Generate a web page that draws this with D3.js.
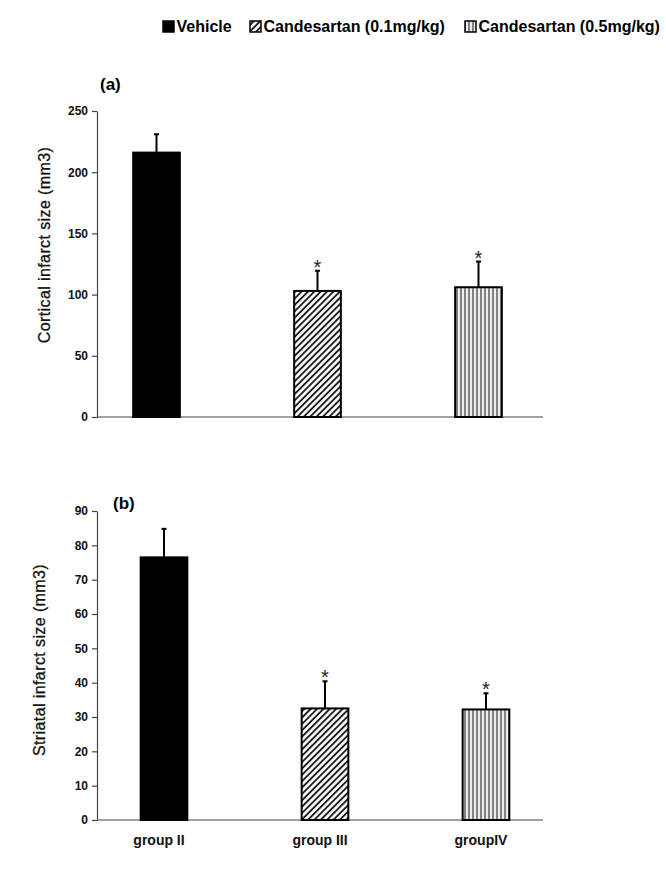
<!DOCTYPE html>
<html><head><meta charset="utf-8">
<script src="https://cdn.jsdelivr.net/npm/d3@7/dist/d3.min.js"></script>
<style>body{margin:0;background:#fff}svg{display:block}</style>
</head><body>
<svg id="c" width="666" height="872"></svg>
<script>
const groups = ["group II", "group III", "groupIV"];
const series = ["Vehicle", "Candesartan (0.1mg/kg)", "Candesartan (0.5mg/kg)"];
const corticalMean = [216, 103, 106];
const corticalErr = [15, 16.5, 21];
const striatalMean = [76.5, 32.5, 32.2];
const striatalErr = [8.3, 7.9, 4.7];
const significant = [false, true, true];
const corticalTicks = [0, 50, 100, 150, 200, 250];
const striatalTicks = [0, 10, 20, 30, 40, 50, 60, 70, 80, 90];

const svg = d3.select("#c");
const font = "'Liberation Sans', Arial, sans-serif";
const defs = svg.append("defs");

const pDiag = defs.append("pattern").attr("id", "diag").attr("patternUnits", "userSpaceOnUse")
  .attr("width", 4.5).attr("height", 4.5).attr("patternTransform", "rotate(45)");
pDiag.append("rect").attr("width", 4.5).attr("height", 4.5).attr("fill", "#fff");
pDiag.append("line").attr("x1", 1).attr("x2", 1).attr("y1", 0).attr("y2", 4.5)
  .attr("stroke", "#111").attr("stroke-width", 1.8);

const pVert = defs.append("pattern").attr("id", "vert").attr("patternUnits", "userSpaceOnUse")
  .attr("width", 4).attr("height", 4);
pVert.append("rect").attr("width", 4).attr("height", 4).attr("fill", "#eee");
pVert.append("line").attr("x1", 1).attr("x2", 1).attr("y1", 0).attr("y2", 4)
  .attr("stroke", "#555").attr("stroke-width", 1.4);

const fills = ["#000", "url(#diag)", "url(#vert)"];

// Legend
const legendX = [163, 250, 465];
const leg = svg.append("g");
series.forEach((s, i) => {
  leg.append("rect").attr("x", legendX[i]).attr("y", 21).attr("width", 11).attr("height", 11)
    .attr("fill", fills[i]).attr("stroke", "#000").attr("stroke-width", 1.5);
  leg.append("text").attr("x", legendX[i] + 13.5).attr("y", 32).text(s)
    .attr("font-family", font).attr("font-weight", "bold").attr("font-size", 16).attr("fill", "#000");
});

function panel(opts) {
  const g = svg.append("g");
  const y = d3.scaleLinear().domain(opts.domain).range([opts.y0, opts.y1]);
  const x = d3.scaleBand().domain(groups).range(opts.xRange).paddingInner(0.71).paddingOuter(0.355);
  const axisX = 97;

  // y axis
  const ax = g.append("g").attr("transform", `translate(${axisX},0)`)
    .call(d3.axisLeft(y).tickValues(opts.ticks).tickSize(5).tickPadding(4).tickSizeOuter(0));
  ax.select(".domain").attr("stroke", "#444").attr("stroke-width", 1.2);
  ax.selectAll(".tick line").attr("stroke", "#444").attr("stroke-width", 1.2);
  ax.selectAll("text").attr("font-family", font).attr("font-weight", "bold")
    .attr("font-size", 12).attr("fill", "#111");

  // x axis line
  g.append("line").attr("x1", axisX).attr("x2", 543).attr("y1", y(0)).attr("y2", y(0))
    .attr("stroke", "#444").attr("stroke-width", 1.2);

  // error bars
  groups.forEach((c, i) => {
    const cx = x(c) + x.bandwidth() / 2;
    const top = y(opts.mean[i] + opts.err[i]);
    g.append("line").attr("x1", cx).attr("x2", cx).attr("y1", y(opts.mean[i])).attr("y2", top)
      .attr("stroke", "#000").attr("stroke-width", 2);
    g.append("line").attr("x1", cx - 2.5).attr("x2", cx + 2.5).attr("y1", top).attr("y2", top)
      .attr("stroke", "#000").attr("stroke-width", 2);
    if (significant[i]) {
      g.append("text").attr("x", cx).attr("y", top + 3).attr("text-anchor", "middle")
        .attr("font-family", font).attr("font-size", 20).attr("fill", "#222").text("*");
    }
  });

  // bars
  g.selectAll("rect.bar").data(groups).join("rect").attr("class", "bar")
    .attr("x", d => x(d)).attr("width", x.bandwidth())
    .attr("y", (d, i) => y(opts.mean[i])).attr("height", (d, i) => y(0) - y(opts.mean[i]))
    .attr("fill", (d, i) => fills[i]).attr("stroke", "#000").attr("stroke-width", 2);

  // y title
  g.append("text").attr("transform", `translate(${opts.titleX},${opts.titleY}) rotate(-90)`)
    .attr("text-anchor", "middle").attr("font-family", font).attr("font-size", 16)
    .attr("letter-spacing", 0.4).attr("stroke", "#111").attr("stroke-width", 0.3)
    .attr("fill", "#111").text(opts.title);

  // panel label
  g.append("text").attr("x", opts.labelX).attr("y", opts.labelY).text(opts.label)
    .attr("font-family", font).attr("font-weight", "bold").attr("font-size", 17).attr("fill", "#000");

  if (opts.showGroups) {
    groups.forEach((c) => {
      g.append("text").attr("x", x(c) + x.bandwidth() / 2 - 5).attr("y", 845)
        .attr("text-anchor", "middle").attr("font-family", font).attr("font-weight", "bold")
        .attr("font-size", 14).attr("fill", "#111").text(c);
    });
  }
}

panel({domain: [0, 250], y0: 417, y1: 111, ticks: corticalTicks, xRange: [76, 559],
  mean: corticalMean, err: corticalErr, title: "Cortical infarct size (mm3)", titleX: 50, titleY: 245,
  label: "(a)", labelX: 100, labelY: 90, showGroups: false});
panel({domain: [0, 90], y0: 820, y1: 511, ticks: striatalTicks, xRange: [83.5, 566.5],
  mean: striatalMean, err: striatalErr, title: "Striatal infarct size (mm3)", titleX: 45, titleY: 660,
  label: "(b)", labelX: 113, labelY: 509, showGroups: true});
</script>
</body></html>
